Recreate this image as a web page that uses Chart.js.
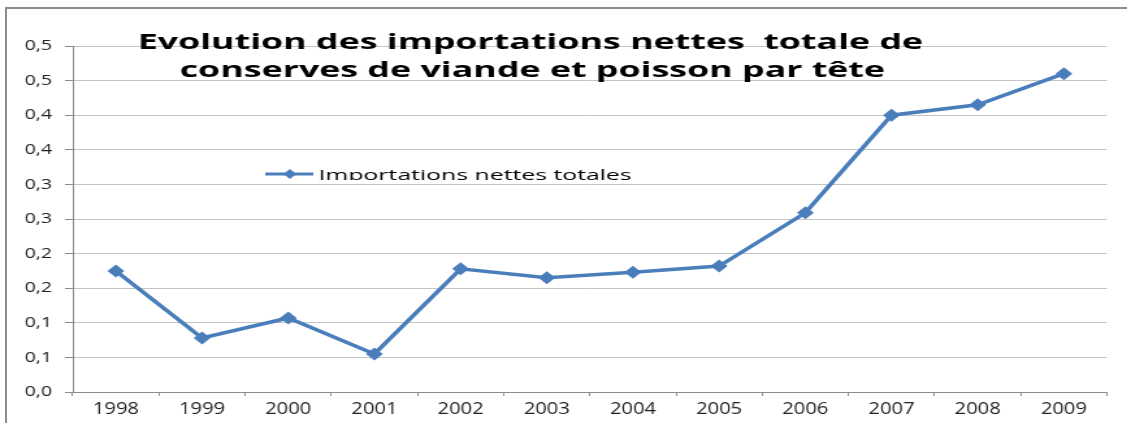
<!DOCTYPE html>
<html>
<head>
<meta charset="utf-8">
<script src="https://cdn.jsdelivr.net/npm/chart.js@4/dist/chart.umd.min.js"></script>
<style>
  html, body { margin: 0; padding: 0; background: #fff; overflow: hidden; }
  #frame { position: absolute; left: 5px; top: 7px; width: 1130px; height: 420px;
           border-top: 2px solid #8c8c8c; border-left: 2px solid #8c8c8c; }
  #wrap { position: absolute; left: 0; top: 0; width: 867px; height: 423px;
          transform: scaleX(1.3); transform-origin: 0 0; }
</style>
</head>
<body>
<div id="frame"></div>
<div id="wrap"><canvas id="chart" width="867" height="423"></canvas></div>
<script>
// data
const years = ['1998', '1999', '2000', '2001', '2002', '2003', '2004', '2005', '2006', '2007', '2008', '2009'];
const importations = [0.175, 0.078, 0.107, 0.055, 0.178, 0.165, 0.173, 0.182, 0.259, 0.400, 0.415, 0.460];
const yTickLabels = ['0,0', '0,1', '0,1', '0,2', '0,2', '0,3', '0,3', '0,4', '0,4', '0,5', '0,5'];
const titleLines = ['Evolution des importations nettes  totale de', 'conserves de viande et poisson par tête'];
const seriesName = 'Importations nettes totales';

const blue = '#4a7ebb';
const font = "'Open Sans', 'DejaVu Sans', sans-serif";

// draws text squeezed wider, the original picture is stretched
function wideText(ctx, text, x, y, k) {
    ctx.save();
    ctx.translate(x, y);
    ctx.scale(k, 1);
    ctx.fillText(text, 0, 0);
    ctx.restore();
}

// title and legend sit inside the plot area, like in the Excel original
const overlay = {
    id: 'overlay',
    afterDraw(chart) {
        const ctx = chart.ctx;
        ctx.save();
        ctx.fillStyle = '#000';
        ctx.font = 'bold 21px ' + font;
        ctx.textAlign = 'center';
        ctx.textBaseline = 'alphabetic';
        wideText(ctx, titleLines[0], 408, 49, 1.31);
        wideText(ctx, titleLines[1], 409.5, 77, 1.31);

        // legend
        ctx.strokeStyle = blue;
        ctx.lineWidth = 3;
        ctx.beginPath();
        ctx.moveTo(204, 174);
        ctx.lineTo(241, 174);
        ctx.stroke();
        ctx.fillStyle = blue;
        ctx.beginPath();
        ctx.moveTo(223, 169);
        ctx.lineTo(228, 174);
        ctx.lineTo(223, 179);
        ctx.lineTo(218, 174);
        ctx.closePath();
        ctx.fill();

        ctx.beginPath();
        ctx.rect(240, 150, 300, 30);
        ctx.clip();
        ctx.fillStyle = '#000';
        ctx.font = '15px ' + font;
        ctx.textAlign = 'left';
        wideText(ctx, seriesName, 245, 180, 1.27);
        ctx.restore();
    }
};

new Chart(document.getElementById('chart'), {
    type: 'line',
    data: {
        labels: years,
        datasets: [{
            label: seriesName,
            data: importations,
            borderColor: blue,
            backgroundColor: blue,
            borderWidth: 3.5,
            tension: 0,
            pointStyle: 'rectRot',
            pointRadius: 6.5,
            pointBorderWidth: 0,
            pointBackgroundColor: blue
        }]
    },
    options: {
        responsive: false,
        animation: false,
        layout: { padding: { top: 46, right: 15.5, bottom: 0, left: 0 } },
        plugins: {
            legend: { display: false },
            title: { display: false },
            tooltip: { enabled: false }
        },
        scales: {
            x: {
                offset: true,
                grid: {
                    offset: true,
                    drawOnChartArea: false,
                    drawTicks: true,
                    tickLength: 4,
                    color: '#8c8c8c'
                },
                border: { color: '#8c8c8c', width: 1 },
                ticks: {
                    color: '#222',
                    font: { family: font, size: 15.5 },
                    padding: 4,
                    maxRotation: 0
                },
                afterFit(scale) { scale.height = 31; }
            },
            y: {
                min: 0,
                max: 0.5,
                ticks: {
                    stepSize: 0.05,
                    color: '#222',
                    font: { family: font, size: 15 },
                    padding: 10,
                    callback: (value, index) => yTickLabels[index]
                },
                grid: {
                    color: '#c4c4c4',
                    lineWidth: 1,
                    tickColor: '#8c8c8c',
                    tickLength: 6
                },
                border: { color: '#8c8c8c', width: 1 },
                afterFit(scale) { scale.width = 56; }
            }
        }
    },
    plugins: [overlay]
});
</script>
</body>
</html>
